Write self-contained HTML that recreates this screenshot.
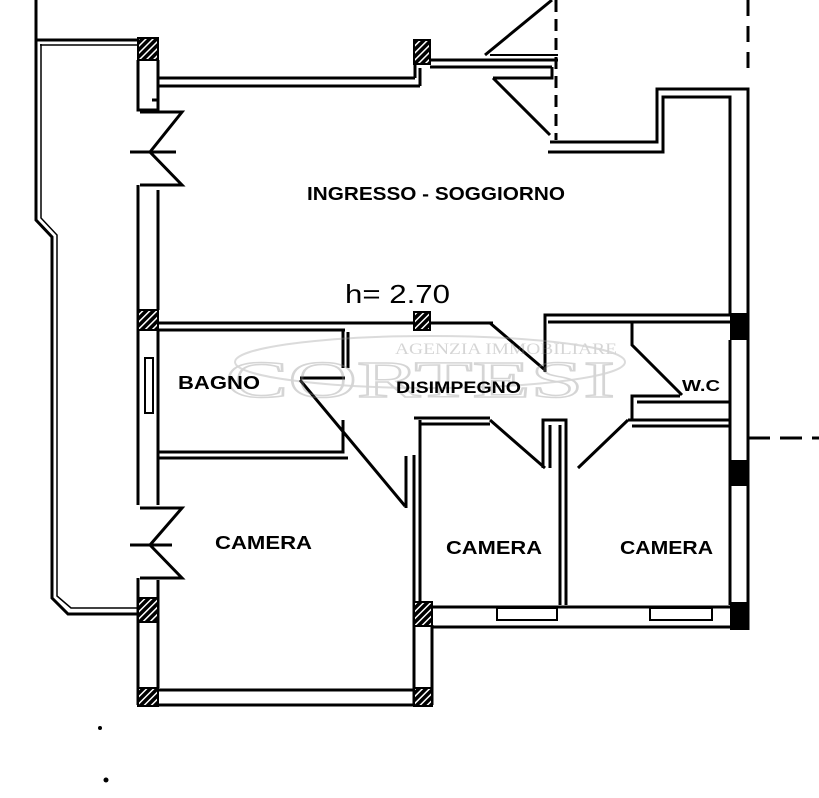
<!DOCTYPE html>
<html><head><meta charset="utf-8"><style>
html,body{margin:0;padding:0;background:#fff;}
svg{display:block;}
text{font-family:"Liberation Sans",sans-serif;font-weight:bold;fill:#000;}
</style></head><body>
<svg width="819" height="798" viewBox="0 0 819 798" xmlns="http://www.w3.org/2000/svg">
<defs>
<pattern id="h" width="5" height="5" patternUnits="userSpaceOnUse" patternTransform="rotate(45)">
<rect width="5" height="5" fill="#000"/><rect x="0" width="1.5" height="5" fill="#fff"/></pattern>
</defs>
<g fill="none" stroke="#000" stroke-width="3">
<line x1="36" y1="0" x2="36" y2="38"/>
<polyline points="36,38 36,220 52,237 52,598 68,614 140,614"/>
<polyline points="41,44 41,218 57,235 57,596 71,608 140,608" stroke-width="1.5"/>
<line x1="36" y1="40" x2="140" y2="40"/>
<line x1="40" y1="45" x2="140" y2="45" stroke-width="1.5"/>
<polyline points="138,60 138,110 158,110 158,100 152,100"/>
<line x1="158" y1="60" x2="158" y2="100"/>
<polyline points="138,185 138,330"/>
<polyline points="158,190 158,310"/>
<polyline points="140,112 182,112 150,152 182,185 140,185"/>
<line x1="130" y1="152" x2="176" y2="152"/>
<line x1="158" y1="78" x2="415" y2="78"/>
<line x1="158" y1="86" x2="420" y2="86"/>
<line x1="415" y1="78" x2="415" y2="60"/>
<line x1="420" y1="86" x2="420" y2="68"/>
<line x1="430" y1="60" x2="558" y2="60"/>
<line x1="430" y1="67" x2="552" y2="67"/>
<line x1="490" y1="55" x2="558" y2="55" stroke-width="2"/>
<line x1="485" y1="55" x2="552" y2="0"/>
<polyline points="493,78 552,78 552,67"/>
<line x1="493" y1="78" x2="550" y2="135"/>
<line x1="556" y1="0" x2="556" y2="140" stroke-dasharray="12,7"/>
<line x1="748" y1="0" x2="748" y2="78" stroke-dasharray="16,10"/>
<polyline points="548,152 663,152 663,97 730,97 730,315"/>
<polyline points="550,142 657,142 657,89 748,89 748,630"/>
<line x1="158" y1="323" x2="493" y2="323"/>
<line x1="158" y1="330" x2="345" y2="330"/>
<line x1="490" y1="323" x2="545" y2="370"/>
<polyline points="545,372 545,315 730,315"/>
<line x1="548" y1="322" x2="730" y2="322"/>
<polyline points="632,322 632,345 682,395"/>
<polyline points="680,396 632,396 632,420"/>
<line x1="637" y1="402" x2="730" y2="402"/>
<line x1="343" y1="330" x2="343" y2="368"/>
<line x1="348" y1="332" x2="348" y2="368"/>
<line x1="300" y1="378" x2="345" y2="378"/>
<line x1="300" y1="380" x2="405" y2="506"/>
<polyline points="343,420 343,452 158,452"/>
<line x1="348" y1="458" x2="158" y2="458"/>
<line x1="406" y1="456" x2="406" y2="508"/>
<rect x="145" y="358" width="8" height="55" stroke-width="2"/>
<polyline points="138,330 138,505"/>
<polyline points="158,330 158,505"/>
<polyline points="140,508 182,508 150,545 182,578 140,578"/>
<line x1="130" y1="545" x2="172" y2="545"/>
<line x1="138" y1="578" x2="138" y2="705"/>
<line x1="158" y1="580" x2="158" y2="688"/>
<line x1="158" y1="690" x2="414" y2="690"/>
<line x1="140" y1="705" x2="432" y2="705"/>
<line x1="414" y1="455" x2="414" y2="705"/>
<line x1="432" y1="625" x2="432" y2="705"/>
<line x1="420" y1="420" x2="420" y2="605"/>
<polyline points="414,418 490,418"/>
<line x1="420" y1="424" x2="490" y2="424"/>
<line x1="490" y1="420" x2="545" y2="468"/>
<polyline points="543,468 543,420 566,420 566,605"/>
<line x1="550" y1="425" x2="550" y2="468"/>
<line x1="560" y1="425" x2="560" y2="605"/>
<line x1="578" y1="468" x2="628" y2="420"/>
<line x1="628" y1="420" x2="730" y2="420"/>
<line x1="632" y1="426" x2="730" y2="426"/>
<line x1="730" y1="340" x2="730" y2="605"/>
<line x1="420" y1="607" x2="730" y2="607"/>
<line x1="432" y1="627" x2="748" y2="627"/>
<rect x="497" y="608" width="60" height="12" stroke-width="2"/>
<rect x="650" y="608" width="62" height="12" stroke-width="2"/>
<line x1="748" y1="438" x2="819" y2="438" stroke-dasharray="22,10"/>
</g>
<g fill="url(#h)" stroke="#000" stroke-width="2">
<rect x="138" y="38" width="20" height="22"/>
<rect x="414" y="40" width="16" height="24"/>
<rect x="138" y="310" width="20" height="20"/>
<rect x="414" y="312" width="16" height="18"/>
<rect x="138" y="598" width="20" height="24"/>
<rect x="414" y="602" width="18" height="24"/>
<rect x="138" y="688" width="20" height="18"/>
<rect x="414" y="688" width="18" height="18"/>
</g>
<g fill="#000">
<rect x="730" y="313" width="18" height="27"/>
<rect x="730" y="460" width="18" height="26"/>
<rect x="730" y="602" width="18" height="28"/>
<circle cx="100" cy="728" r="2"/><circle cx="106" cy="780" r="2.5"/>
</g>
<g opacity="0.35">
<ellipse cx="430" cy="362" rx="195" ry="26" fill="none" stroke="#999" stroke-width="2"/>
<text x="395" y="354" style="font-family:'Liberation Serif',serif;font-weight:normal;font-size:16px;fill:#888" textLength="222" lengthAdjust="spacingAndGlyphs">AGENZIA IMMOBILIARE</text>
<text x="225" y="397" style="font-family:'Liberation Serif',serif;font-weight:normal;font-size:52px;fill:none;stroke:#888;stroke-width:1.5" textLength="390" lengthAdjust="spacingAndGlyphs">CORTESI</text>
</g>
<text x="307" y="200" font-size="18" textLength="258" lengthAdjust="spacingAndGlyphs">INGRESSO - SOGGIORNO</text>
<text x="345" y="303" font-size="26" style="font-weight:normal" textLength="105" lengthAdjust="spacingAndGlyphs">h= 2.70</text>
<text x="178" y="389" font-size="18" textLength="82" lengthAdjust="spacingAndGlyphs">BAGNO</text>
<text x="396" y="393" font-size="17" textLength="125" lengthAdjust="spacingAndGlyphs">DISIMPEGNO</text>
<text x="682" y="391" font-size="16" textLength="38" lengthAdjust="spacingAndGlyphs">W.C</text>
<text x="215" y="549" font-size="18" textLength="97" lengthAdjust="spacingAndGlyphs">CAMERA</text>
<text x="446" y="554" font-size="18" textLength="96" lengthAdjust="spacingAndGlyphs">CAMERA</text>
<text x="620" y="554" font-size="18" textLength="93" lengthAdjust="spacingAndGlyphs">CAMERA</text>
</svg>
</body></html>
